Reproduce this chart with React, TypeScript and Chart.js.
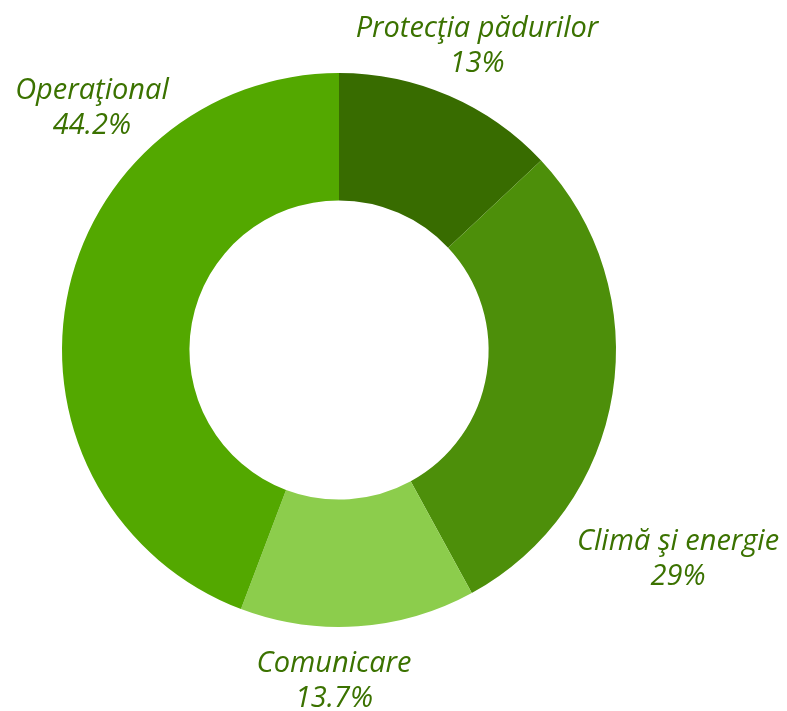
import React, { useEffect, useRef } from "react";
import { Chart, registerables } from "chart.js";

Chart.register(...registerables);

const categories = ["Protecţia pădurilor", "Climă şi energie", "Comunicare", "Operaţional"];
const values = [13, 29, 13.7, 44.2];
const valueLabels = ["13%", "29%", "13.7%", "44.2%"];
const colors = ["#386c00", "#4d8f0a", "#8ccd4c", "#53a800"];
// label anchor offsets relative to doughnut centre, in units of outer radius
const labelOffsets = [
  [0.498, -1.097],
  [1.224, 0.755],
  [-0.018, 1.195],
  [-0.892, -0.874],
];

const labelPlugin = {
  id: "outerLabels",
  afterDraw(chart: any) {
    const meta = chart.getDatasetMeta(0);
    const ctx = chart.ctx;
    ctx.save();
    ctx.font = "italic 29px 'Open Sans', sans-serif";
    ctx.fillStyle = "#3b7200";
    ctx.textAlign = "center";
    ctx.textBaseline = "middle";
    meta.data.forEach((arc: any, i: number) => {
      const { x, y, outerRadius } = arc.getProps(["x", "y", "outerRadius"], true);
      const cx = x + labelOffsets[i][0] * outerRadius;
      const cy = y + labelOffsets[i][1] * outerRadius;
      ctx.fillText(categories[i], cx, cy - 17);
      ctx.fillText(valueLabels[i], cx, cy + 18);
    });
    ctx.restore();
  },
};

export default function App() {
  const ref = useRef<HTMLCanvasElement>(null);
  useEffect(() => {
    const chart = new Chart(ref.current!, {
      type: "doughnut",
      data: {
        labels: categories,
        datasets: [
          {
            data: values,
            backgroundColor: colors,
            borderWidth: 0,
          },
        ],
      },
      options: {
        responsive: false,
        animation: false,
        cutout: "54%",
        layout: { padding: { left: 62, right: 171, top: 73, bottom: 84 } },
        plugins: { legend: { display: false }, tooltip: { enabled: false } },
      },
      plugins: [labelPlugin],
    });
    return () => chart.destroy();
  }, []);
  return (
    <div style={{ position: "fixed", left: 0, top: 0, width: 787, height: 711, background: "#fff" }}>
      <canvas ref={ref} width={787} height={711} />
    </div>
  );
}
